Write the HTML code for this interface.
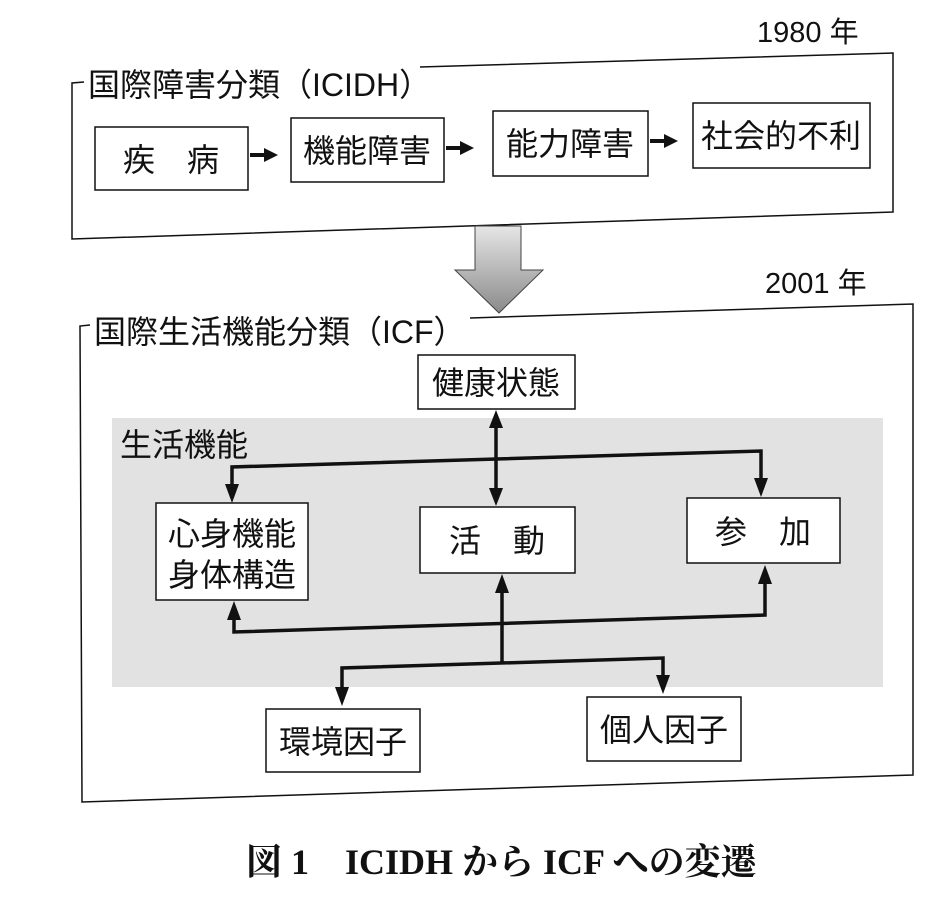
<!DOCTYPE html>
<html><head><meta charset="utf-8"><style>
html,body{margin:0;padding:0;background:#fff}
svg{display:block}
text{font-family:"Liberation Sans","Noto Sans CJK JP",sans-serif;fill:#111}
</style></head><body>
<svg width="940" height="905" viewBox="0 0 940 905" xmlns="http://www.w3.org/2000/svg">
<defs>
<linearGradient id="g" x1="0" y1="0" x2="0" y2="1"><stop offset="0" stop-color="#e6e6e6"/><stop offset="1" stop-color="#8a8a8a"/></linearGradient>
</defs>
<polyline points="84,82 72,83 72,239 893,212 893,53 420,67" stroke="#111" fill="none" stroke-width="1.5"/>
<text x="757" y="42" font-size="29">1980 年</text>
<text x="88" y="96" font-size="32">国際障害分類（ICIDH）</text>
<g stroke="#111" fill="#fff" stroke-width="1.5">
<rect x="95" y="127" width="153" height="63"/>
<rect x="291" y="118" width="153" height="64"/>
<rect x="493" y="111" width="155" height="65"/>
<rect x="693" y="103" width="177" height="65"/>
</g>
<g font-size="32" text-anchor="middle">
<text x="171" y="171">疾　病</text>
<text x="367" y="162">機能障害</text>
<text x="570" y="155">能力障害</text>
<text x="781" y="147">社会的不利</text>
</g>
<g stroke="#111" stroke-width="4">
<line x1="250" y1="155" x2="266" y2="155"/>
<line x1="446" y1="148" x2="462" y2="148"/>
<line x1="650" y1="141" x2="666" y2="141"/>
</g>
<g fill="#111">
<path d="M264,148 L278,155 L264,162 Z"/>
<path d="M460,141 L474,148 L460,155 Z"/>
<path d="M664,134 L678,141 L664,148 Z"/>
</g>
<path d="M475,226 L521,226 L521,270 L543,270 L499,313 L455,270 L475,270 Z" fill="url(#g)" stroke="#444" stroke-width="1"/>
<text x="765" y="293" font-size="29">2001 年</text>
<polyline points="90,325 80,326 82,802 913,775 913,304 470,318" stroke="#111" fill="none" stroke-width="1.5"/>
<text x="94" y="343" font-size="32">国際生活機能分類（ICF）</text>
<rect x="112" y="418" width="771" height="269" fill="#e2e2e2"/>
<text x="120" y="456" font-size="32">生活機能</text>
<g stroke="#111" fill="#fff" stroke-width="1.5">
<rect x="418" y="355" width="157" height="54"/>
<rect x="156" y="503" width="152" height="97"/>
<rect x="420" y="507" width="155" height="66"/>
<rect x="687" y="498" width="153" height="65"/>
<rect x="266" y="709" width="154" height="63"/>
<rect x="587" y="697" width="154" height="64"/>
</g>
<g font-size="32" text-anchor="middle">
<text x="496" y="394">健康状態</text>
<text x="232" y="545">心身機能</text>
<text x="232" y="586">身体構造</text>
<text x="497" y="552">活　動</text>
<text x="763" y="543">参　加</text>
<text x="343" y="753">環境因子</text>
<text x="664" y="741">個人因子</text>
</g>
<g stroke="#111" stroke-width="3.5" fill="none">
<line x1="496" y1="425" x2="496" y2="490"/>
<polyline points="232,490 232,467 761,451 761,482"/>
<polyline points="234,616 234,632 765,615 765,582"/>
<line x1="502" y1="590" x2="502" y2="663"/>
<polyline points="342,690 342,668 663,658 663,680"/>
</g>
<g fill="#111">
<path d="M496,410 L489,428 L503,428 Z"/>
<path d="M496,506 L489,488 L503,488 Z"/>
<path d="M232,503 L225,484 L239,484 Z"/>
<path d="M761,497 L754,478 L768,478 Z"/>
<path d="M234,601 L227,620 L241,620 Z"/>
<path d="M765,565 L758,584 L772,584 Z"/>
<path d="M502,574 L495,593 L509,593 Z"/>
<path d="M342,706 L335,687 L349,687 Z"/>
<path d="M663,694 L656,675 L670,675 Z"/>
</g>
<text x="246" y="874" font-size="36" font-weight="bold" style="font-family:'Liberation Serif','Noto Serif CJK SC',serif">図 1　ICIDH から ICF への変遷</text>
</svg>
</body></html>
